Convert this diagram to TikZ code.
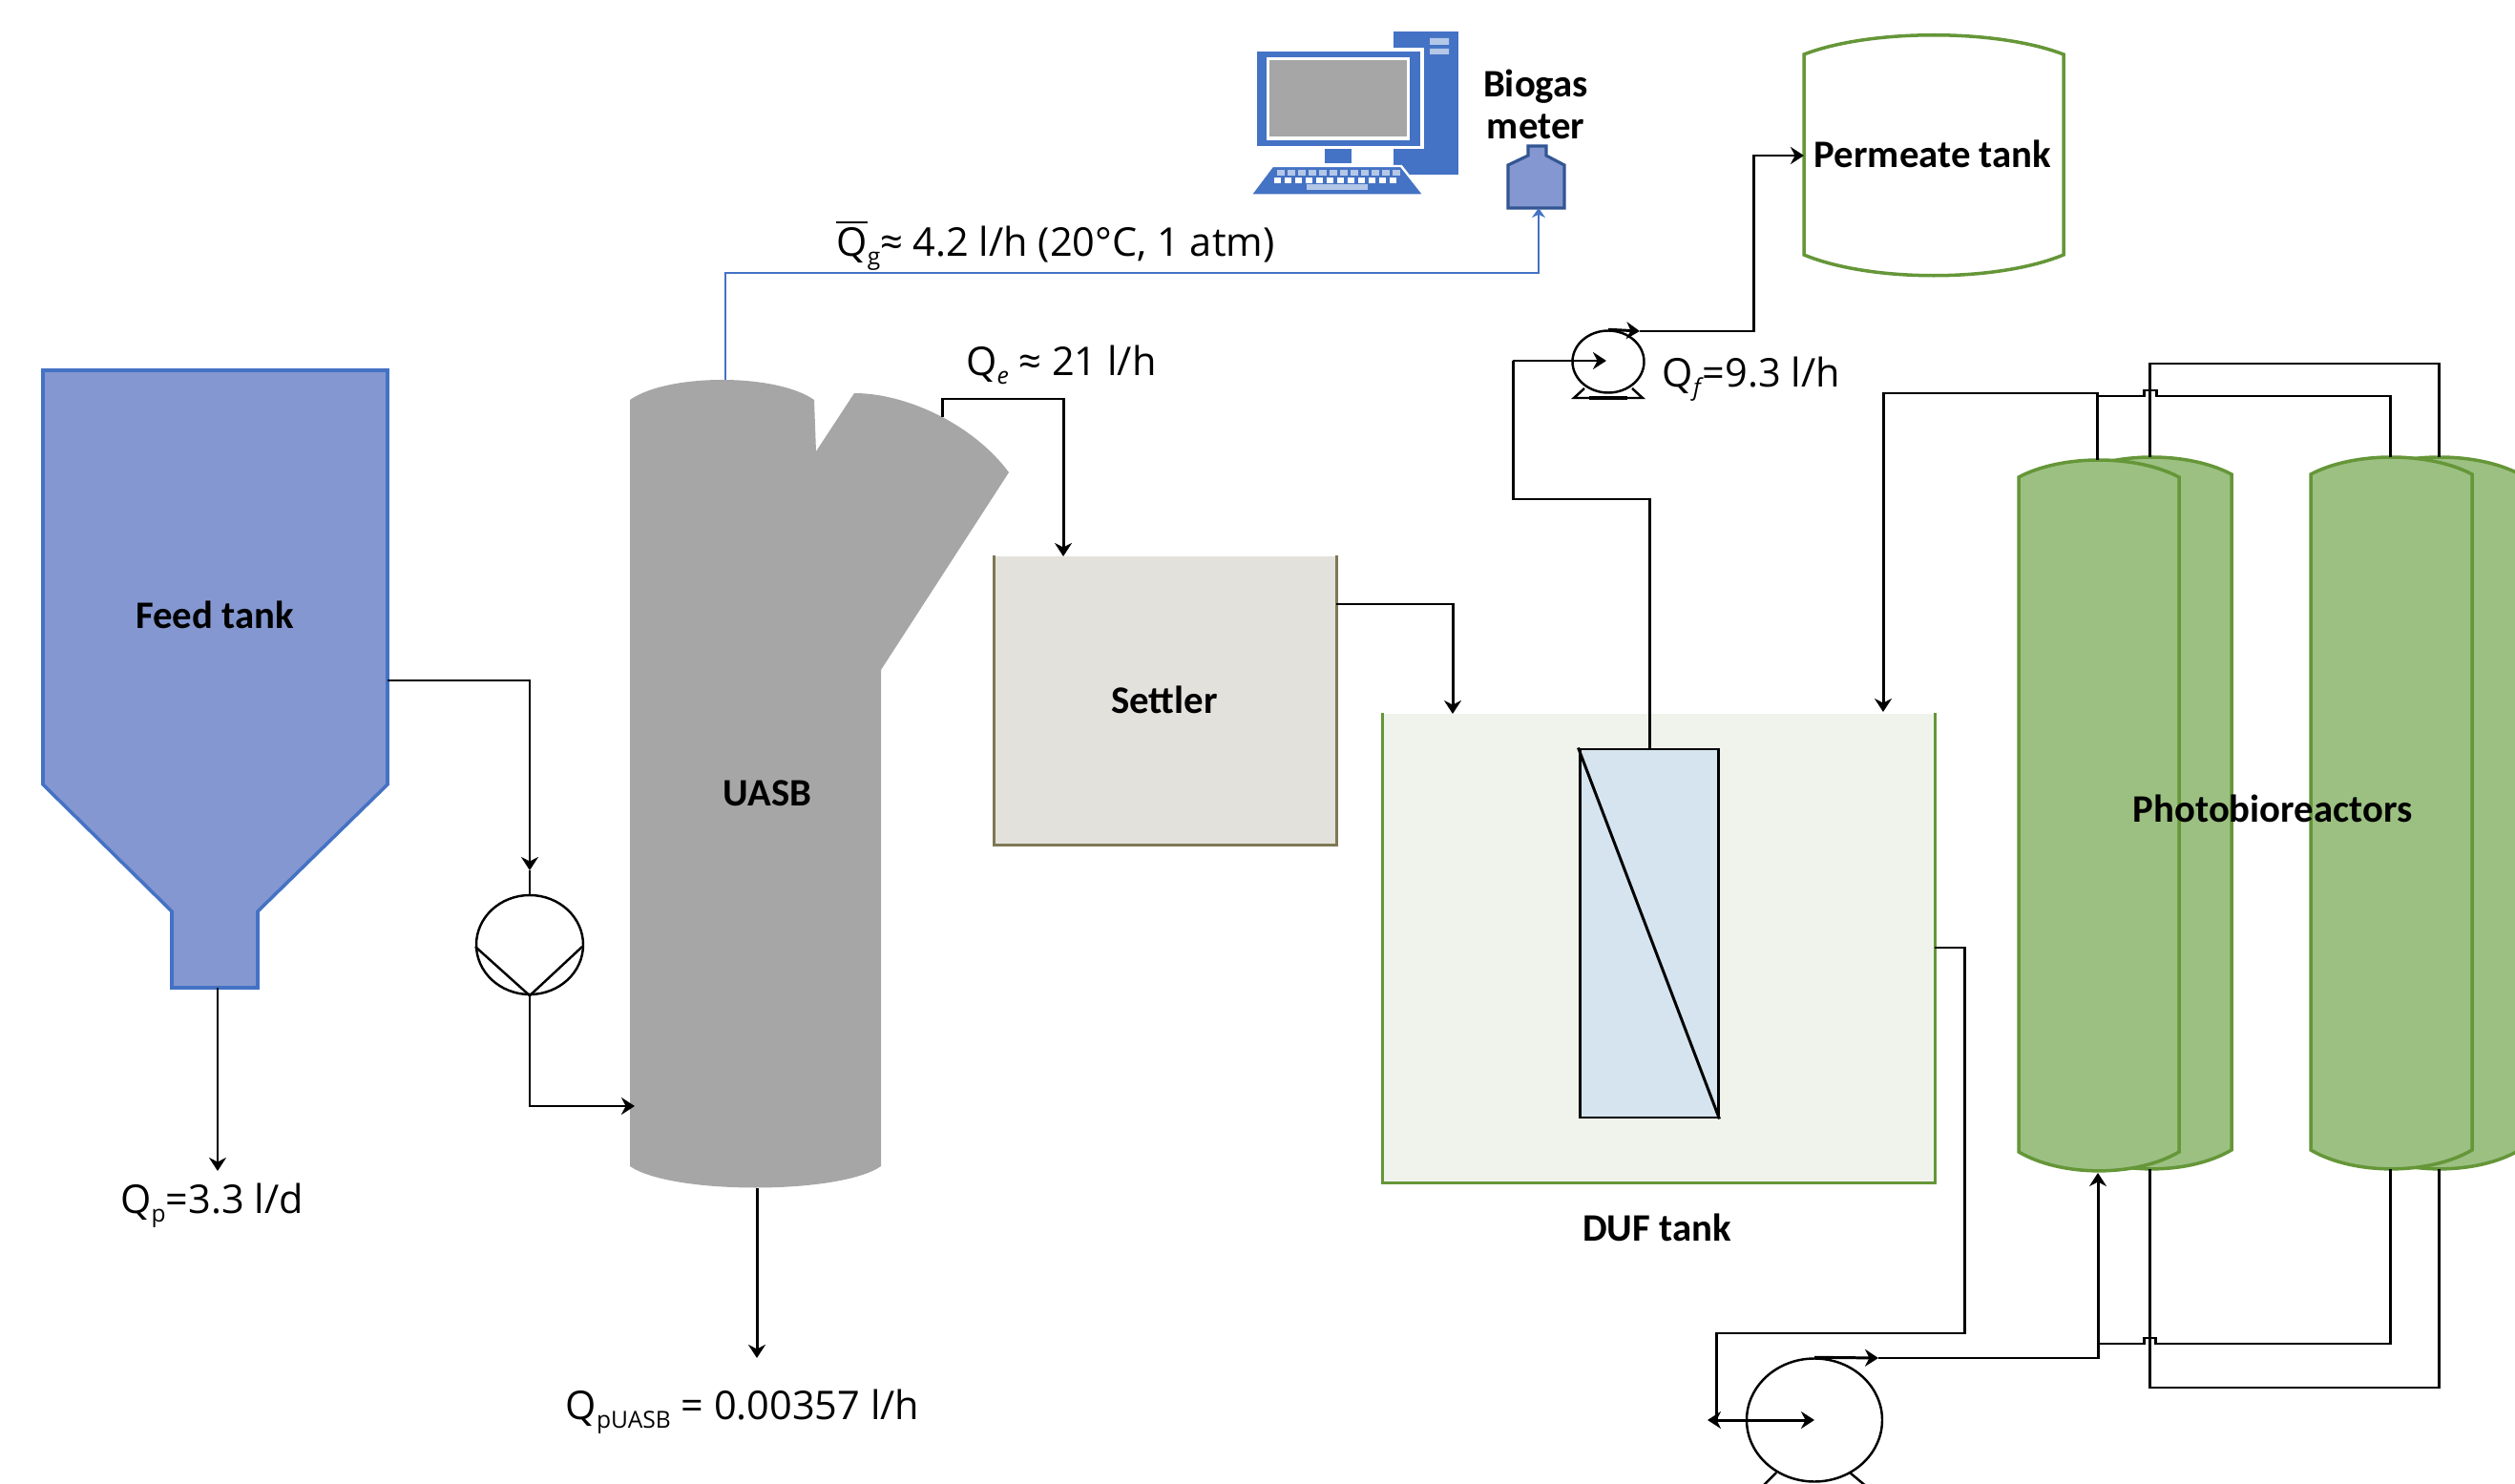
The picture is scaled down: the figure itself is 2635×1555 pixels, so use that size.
\documentclass[tikz,border=0pt]{standalone}
\usepackage{fontspec}
\setmainfont{Carlito}
\newfontfamily\qfont{Open Sans}
\usetikzlibrary{arrows.meta,positioning,shapes.geometric,calc}
\definecolor{tankblue}{HTML}{8497D0}
\definecolor{lineblue}{HTML}{4472C4}
\definecolor{reactor}{HTML}{9CC082}
\definecolor{leaf}{HTML}{659638}
\definecolor{sett}{HTML}{E3E1DB}
\definecolor{settedge}{HTML}{7E7855}
\definecolor{dufbg}{HTML}{F0F3EC}
\definecolor{memb}{HTML}{D5E4EE}
\definecolor{uasbgray}{HTML}{A6A6A6}
\definecolor{keylt}{HTML}{B4C7E7}
\newcommand{\qsub}[1]{\raisebox{-.4ex}{\fontsize{7}{8}\selectfont #1}}
\tikzset{
  lbl/.style={inner sep=0pt,align=center,font=\fontsize{11.6}{12.5}\selectfont\bfseries},
  qlbl/.style={inner sep=0pt,font=\qfont\fontsize{11.8}{14}\selectfont},
  ar/.style={-{Stealth[length=1.4mm,width=1.8mm]},line width=.85pt},
  pipe/.style={line width=.85pt},
  gas/.style={-{Stealth[length=1mm,width=1.4mm]},line width=.75pt,draw=lineblue},
  pumpbody/.style={draw,ellipse,inner sep=0pt,line width=.7pt},
  cyl/.style={fill=reactor,draw=leaf,line width=1pt},
}
\begin{document}
\begin{tikzpicture}[x=0.1mm,y=-0.1mm]
  \useasboundingbox (0,0) rectangle (2635,1555);
  \clip (0,0) rectangle (2635,1555);
  \filldraw[fill=tankblue,draw=lineblue,line width=1pt] (45,388) -- (406,388) -- (406,822) -- (270,955) -- (270,1035) -- (180,1035) -- (180,955) -- (45,822) -- cycle;
  \node[lbl] (feed) at (225,644) {Feed tank};
  \coordinate (feedout) at (406,713);
  \coordinate (feedbot) at (228,1035);
  \coordinate (qpend) at (228,1227);

  \fill[uasbgray] (660,419) .. controls (700,391) and (813,391) .. (853,419) -- (855,473) -- (895,412) .. controls (950,412) and (1020,445) .. (1057,495) -- (923,702) -- (923,1222) .. controls (880,1252) and (703,1252) .. (660,1222) -- cycle;
  \node[lbl] (uasb) at (804,831) {UASB};
  \coordinate (uasbtop) at (760,398);
  \coordinate (uasbout) at (987,437);
  \coordinate (uasbin) at (665,1159);
  \coordinate (uasbbot) at (793,1245);
  \coordinate (wasteend) at (793,1423);

  \node[pumpbody,minimum width=11.2mm,minimum height=10.4mm] (fpump) at (555,990) {};
  \coordinate (fpumpin) at (555,912);
  \coordinate (fpumpl) at (498,992);
  \coordinate (fpumpr) at (610,992);
  \draw[line width=.7pt] (fpumpl) -- (fpump.south) -- (fpumpr);
  \draw[ar] (feedout) -| (fpumpin);
  \draw[pipe] (fpumpin) -- (fpump.north);
  \draw[ar] (fpump.south) |- (uasbin);
  \draw[ar] (feedbot) -- (qpend);
  \draw[ar] (uasbbot) -- (wasteend);

  \node[fill=sett,inner sep=0pt,minimum width=35.8mm,minimum height=30.2mm] (settler) at (1221,734) {};
  \draw[settedge,line width=.9pt] (settler.north west) -- (settler.south west) -- (settler.south east) -- (settler.north east);
  \node[lbl] (settlbl) at (1220,733) {Settler};
  \coordinate (settin) at (1114,583);
  \coordinate (settout) at (1400,633);
  \draw[ar] (uasbout) -- ++(0,-19) -| (settin);

  \node[fill=dufbg,inner sep=0pt,minimum width=57.8mm,minimum height=49.1mm] (duf) at (1738,993.5) {};
  \draw[leaf,line width=1pt] (duf.north west) -- (duf.south west) -- (duf.south east) -- (duf.north east);
  \node[lbl] (duflbl) at (1736,1286) {DUF tank};
  \coordinate (dufin) at (1522,748);
  \coordinate (dufret) at (1973,746);
  \coordinate (dufout) at (2027,993);
  \draw[ar] (settout) -| (dufin);
  \node[draw,fill=memb,inner sep=0pt,line width=.85pt,minimum width=14.5mm,minimum height=38.6mm] (membrane) at (1727.5,978) {};
  \draw[line width=.85pt] (membrane.north west) -- (membrane.south east);
  \coordinate (membout) at (1728,785);

  \fill[lineblue] (1460,33) rectangle (1528,183);
  \fill[keylt] (1498,40) rectangle (1518,47) (1498,51) rectangle (1518,57);
  \fill[white] (1313,50) rectangle (1492,156);
  \fill[lineblue] (1317,54) rectangle (1488,153);
  \fill[white] (1327,60) rectangle (1477,147);
  \fill[uasbgray] (1330,63) rectangle (1474,143);
  \fill[lineblue] (1388,156) rectangle (1416,171);
  \filldraw[fill=lineblue,draw=white,line width=.7pt] (1333,174) -- (1468,174) -- (1492,204.5) -- (1310,204.5) -- cycle;
  \foreach \kx in {1338,1349,...,1460} {
    \fill[keylt] (\kx,178) rectangle ++(8,6);
    \fill[white] (\kx-3,186) rectangle ++(7,6);
  }
  \fill[keylt] (1369,193) rectangle (1433,199);

  \filldraw[fill=tankblue,draw=lineblue!75!black,line width=.9pt] (1601,153) -- (1620,153) -- (1620,163) -- (1639,173) -- (1639,218) -- (1580,218) -- (1580,173) -- (1601,163) -- cycle;
  \node[lbl] (biogas) at (1609,109) {Biogas\\meter};
  \coordinate (meterin) at (1612,218);
  \draw[gas] (uasbtop) -- ++(0,-112) -| (meterin);

  \filldraw[fill=white,draw=leaf,line width=1pt] (1890,57) .. controls (1960,30) and (2092,30) .. (2162,57) -- (2162,267) .. controls (2092,296) and (1960,296) .. (1890,267) -- cycle;
  \node[lbl] (permeate) at (2025,161) {Permeate tank};
  \coordinate (permin) at (1890,163);

  \node[pumpbody,minimum width=7.5mm,minimum height=6.5mm] (ppump) at (1685,379) {};
  \coordinate (ppumpout) at (1718,347);
  \coordinate (ppumpfeed) at (1585,378);
  \coordinate (ppumpc) at (1683,378);
  \draw[line width=.7pt] (1660,407) -- (1649,417) -- (1721,417) -- (1710,407);
  \draw[line width=1.2pt] (1665,417) -- (1705,417);
  \draw[ar] (ppump.north) -- (ppumpout);
  \draw[ar] (ppumpout) -- ++(119,0) |- (permin);
  \draw[pipe] (membout) -- ++(0,-262) -| (ppumpfeed);
  \draw[ar] (ppumpfeed) -- (ppumpc);

  \foreach \xl/\xr/\yt/\yb in {2171/2338/479/1225,2472/2640/479/1225,2115/2283/482/1227,2421/2590/479/1225} {
    \filldraw[cyl] (\xl,\yt+18) .. controls (\xl+45,\yt-6) and (\xr-45,\yt-6) .. (\xr,\yt+18) -- (\xr,\yb-20) .. controls (\xr-45,\yb+6.5) and (\xl+45,\yb+6.5) .. (\xl,\yb-20) -- cycle;
  }
  \node[lbl] (pbr) at (2381,847) {Photobioreactors};
  \coordinate (aatop) at (2197,482);
  \coordinate (abtop) at (2252,479);
  \coordinate (batop) at (2504,479);
  \coordinate (bbtop) at (2555,479);
  \coordinate (aabot) at (2198,1229);
  \coordinate (abbot) at (2252,1225);
  \coordinate (babot) at (2504,1225);
  \coordinate (bbbot) at (2555,1225);

  \draw[ar] (aatop) -- ++(0,-70) -| (dufret);
  \coordinate (hoptop) at (2197,415);
  \draw[pipe] (hoptop) -- ++(49,0) -- ++(0,-6) -- ++(13,0) -- ++(0,6) -| (batop);
  \draw[pipe] (abtop) -- ++(0,-98) -| (bbtop);

  \draw[pipe] (dufout) -- ++(31,0) -- ++(0,404) -- ++(-260,0) -- ++(0,91);
  \coordinate (rleft) at (1789,1488);
  \node[pumpbody,minimum width=14.2mm,minimum height=12.9mm] (rpump) at (1901,1488) {};
  \draw[line width=.7pt] (1861,1543) -- (1846,1558) (1938,1543) -- (1956,1558);
  \draw[{Stealth[length=1.4mm,width=1.8mm]}-{Stealth[length=1.4mm,width=1.8mm]},line width=.85pt] (rleft) -- (rpump.center);
  \coordinate (rpumpout) at (1968,1423);
  \draw[ar] (rpump.north) -- (rpumpout);
  \draw[ar] (rpumpout) -| (aabot);
  \coordinate (hopbot) at (2198,1408);
  \draw[pipe] (hopbot) -- ++(48,0) -- ++(0,-6) -- ++(12,0) -- ++(0,6) -| (babot);
  \draw[pipe] (abbot) -- ++(0,229) -| (bbbot);

  \node[qlbl] (qp) at (222,1263) {Q\qsub{p}=3.3 l/d};
  \node[qlbl] (qpu) at (778,1479) {Q\qsub{pUASB} = 0.00357 l/h};
  \node[qlbl] (qg) at (1106,257) {$\overline{\mbox{Q}}$\qsub{g}≈ 4.2 l/h (20°C, 1 atm)};
  \node[qlbl] (qe) at (1112,382) {Q\qsub{\itshape e} ≈ 21 l/h};
  \node[qlbl] (qf) at (1835,397) {Q\qsub{\itshape f\kern.6pt}=9.3 l/h};
\end{tikzpicture}
\end{document}
